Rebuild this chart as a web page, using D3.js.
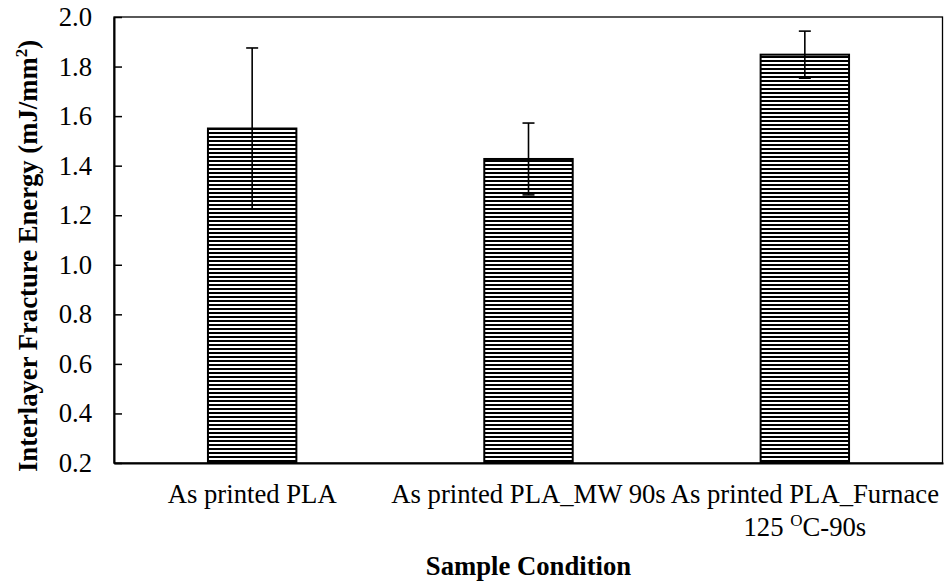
<!DOCTYPE html>
<html>
<head>
<meta charset="utf-8">
<script src="https://cdn.jsdelivr.net/npm/d3@7"></script>
<style>
  html, body { margin: 0; padding: 0; background: #fff; }
  svg { display: block; }
  text { font-family: "Liberation Serif", "Times New Roman", serif; fill: #000; }
</style>
</head>
<body>
<svg id="chart" width="944" height="584"></svg>
<script>
// Sample conditions (x categories) and their label lines
const categories = ["As printed PLA", "As printed PLA_MW 90s", "As printed PLA_Furnace 125 OC-90s"];
const labelLines = [
  [["As printed PLA"]],
  [["As printed PLA_MW 90s"]],
  [["As printed PLA_Furnace"], ["125 ", "O", "C-90s"]]
];
// Mean interlayer fracture energy (mJ/mm²) and standard deviation
const meanEnergy = [1.55, 1.427, 1.848];
const stdDev = [0.325, 0.145, 0.095];
// Y axis ticks
const yTicks = [0.2, 0.4, 0.6, 0.8, 1.0, 1.2, 1.4, 1.6, 1.8, 2.0];

const FS = 26.7;  // 20pt
const svg = d3.select("#chart");
const margin = { left: 114, right: 1, top: 17, bottom: 121 };
const W = 944, H = 584;
const x0 = margin.left, x1 = W - margin.right, y0 = H - margin.bottom, y1 = margin.top;

const x = d3.scaleBand().domain(categories).range([x0, x1]).paddingInner(0.68).paddingOuter(0.34);
const y = d3.scaleLinear().domain([0.2, 2.0]).range([y0, y1]);

// Horizontal hatch fill
const defs = svg.append("defs");
const pat = defs.append("pattern")
  .attr("id", "hatch").attr("patternUnits", "userSpaceOnUse")
  .attr("x", 0).attr("y", 0).attr("width", 8).attr("height", 4);
pat.append("rect").attr("width", 8).attr("height", 4).attr("fill", "#fff");
pat.append("rect").attr("x", 0).attr("y", 0).attr("width", 8).attr("height", 2).attr("fill", "#000");

// Plot frame
svg.append("rect")
  .attr("x", x0).attr("y", y1).attr("width", x1 - x0 - 0.5).attr("height", y0 - y1)
  .attr("fill", "none").attr("stroke", "#000").attr("stroke-width", 1.3);

// Bars
svg.append("g").selectAll("rect").data(categories).join("rect")
  .attr("x", d => x(d))
  .attr("y", (d, i) => y(meanEnergy[i]))
  .attr("width", x.bandwidth())
  .attr("height", (d, i) => y(0.2) - y(meanEnergy[i]))
  .attr("fill", "url(#hatch)")
  .attr("stroke", "#000").attr("stroke-width", 2);

// Error bars
const eb = svg.append("g").attr("stroke", "#000").attr("stroke-width", 1.6);
categories.forEach((c, i) => {
  const cx = x(c) + x.bandwidth() / 2;
  const top = y(meanEnergy[i] + stdDev[i]);
  const bot = y(meanEnergy[i] - stdDev[i]);
  eb.append("line").attr("x1", cx).attr("x2", cx).attr("y1", top).attr("y2", bot);
  eb.append("line").attr("x1", cx - 6).attr("x2", cx + 6).attr("y1", top).attr("y2", top);
  eb.append("line").attr("x1", cx - 6).attr("x2", cx + 6).attr("y1", bot).attr("y2", bot);
});

// Y axis with inward ticks
const yAxis = svg.append("g").attr("transform", `translate(${x0},0)`)
  .call(d3.axisLeft(y).tickValues(yTicks).tickFormat(d3.format(".1f"))
    .tickSizeInner(-8).tickSizeOuter(0).tickPadding(22));
yAxis.attr("font-family", null);
yAxis.select(".domain").attr("stroke", "#000").attr("stroke-width", 2);
yAxis.selectAll(".tick line").attr("stroke", "#000").attr("stroke-width", 1.5);
yAxis.selectAll(".tick text").attr("font-size", FS).attr("fill", "#000");

// X axis line (no ticks)
const xAxis = svg.append("g").attr("transform", `translate(0,${y0})`)
  .call(d3.axisBottom(x).tickSize(0).tickFormat(""));
xAxis.select(".domain").attr("stroke", "#000").attr("stroke-width", 2.2);

// Category labels
const lab = svg.append("g").attr("font-size", FS).attr("text-anchor", "middle");
categories.forEach((c, i) => {
  const cx = x(c) + x.bandwidth() / 2;
  labelLines[i].forEach((parts, j) => {
    const t = lab.append("text").attr("x", cx).attr("y", 503 + j * 33);
    if (parts.length === 1) {
      t.text(parts[0]);
    } else {
      t.append("tspan").text(parts[0]);
      t.append("tspan").attr("font-size", 17).attr("dy", -10).text(parts[1]);
      t.append("tspan").attr("dy", 10).text(parts[2]);
    }
  });
});

// Axis titles
svg.append("text")
  .attr("x", (x0 + x1) / 2).attr("y", 575)
  .attr("text-anchor", "middle").attr("font-size", FS).attr("font-weight", "bold")
  .text("Sample Condition");

const yt = svg.append("text")
  .attr("transform", "translate(37,256) rotate(-90)")
  .attr("text-anchor", "middle").attr("font-size", FS).attr("font-weight", "bold");
yt.append("tspan").text("Interlayer Fracture Energy (mJ/mm");
yt.append("tspan").attr("font-size", 17).attr("dy", -10).text("2");
yt.append("tspan").attr("dy", 10).text(")");
</script>
</body>
</html>
